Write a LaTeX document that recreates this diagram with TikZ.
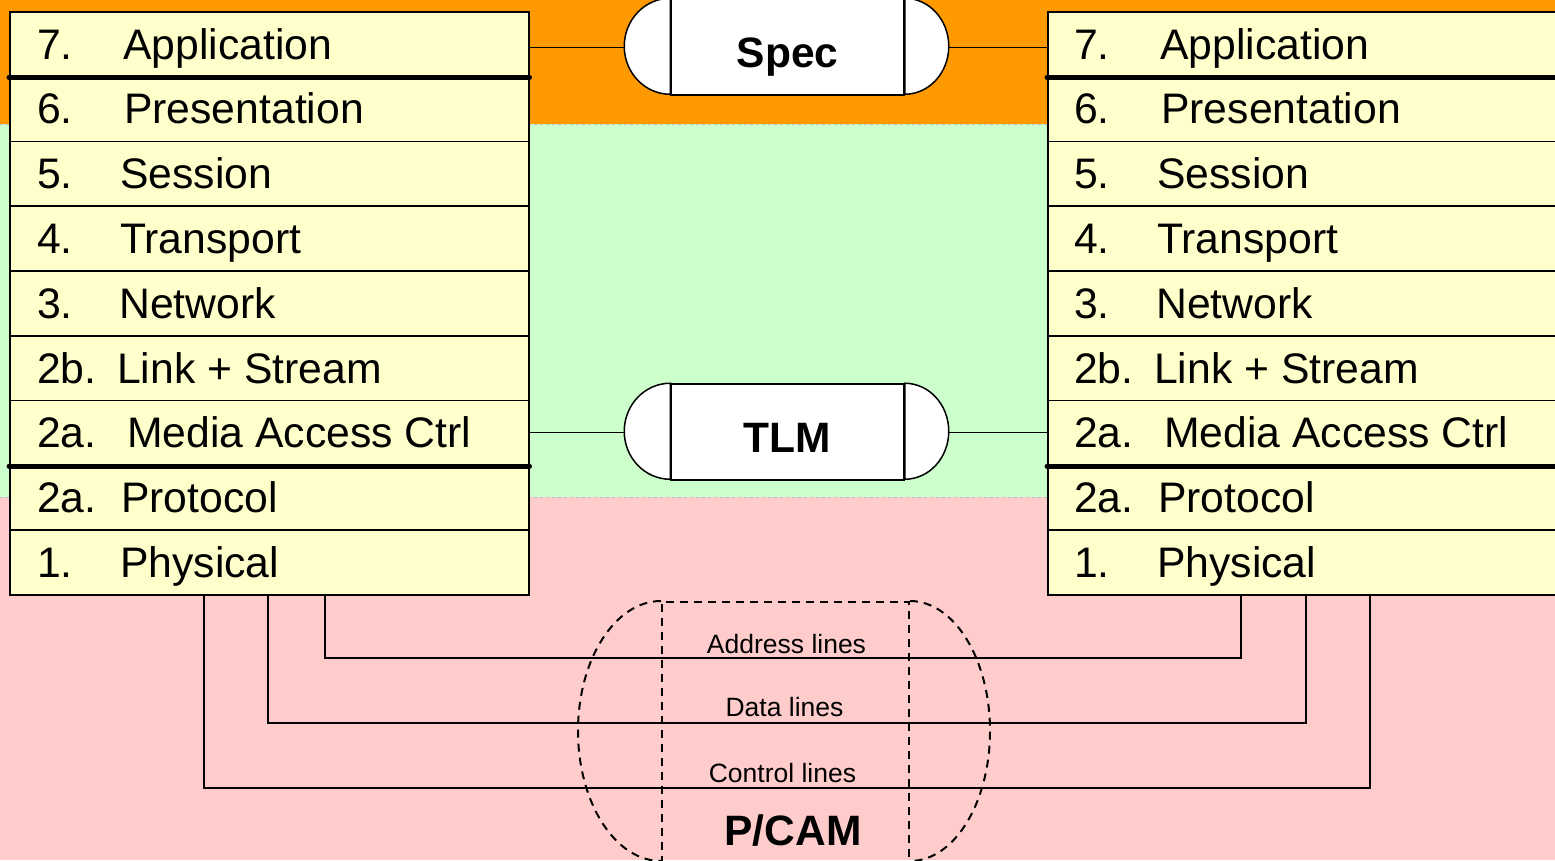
\documentclass[tikz,border=0pt]{standalone}
\usepackage{fontspec}
\setmainfont{Liberation Sans}
\usepackage{xcolor}
\usepackage{tikz}
\definecolor{specbg}{HTML}{FF9900}
\definecolor{tlmbg}{HTML}{CCFFCC}
\definecolor{pcambg}{HTML}{FFCCCC}
\definecolor{layerbg}{HTML}{FFFFCC}
\tikzset{
  layer/.style={draw, line width=1.5pt, fill=layerbg, anchor=north west,
    minimum width=519pt, minimum height=64.8pt, inner sep=0pt},
  laytext/.style={anchor=base west, inner sep=0pt, font=\fontsize{42.7}{50}\selectfont},
  sepline/.style={line width=5pt, line cap=round},
  capsule/.style={draw, line width=1.5pt, fill=white, minimum width=233pt,
    minimum height=96pt, inner sep=0pt, text height=40pt, text depth=0pt,
    font=\bfseries\fontsize{42.5}{50}\selectfont},
  link/.style={line width=1pt},
  bus/.style={line width=2pt},
  buslabel/.style={anchor=base, inner sep=0pt, font=\fontsize{26.5}{30}\selectfont},
  outline/.style={line width=2pt, dash pattern=on 8pt off 6pt},
}

\begin{document}
\begin{tikzpicture}[x=1pt, y=-1pt]
        \useasboundingbox (0,0) rectangle (1555,860);
        \clip (0,0) rectangle (1555,860);
        % bands
        \fill[specbg] (0,0) rectangle (1555,124);
        \fill[tlmbg] (0,124) rectangle (1555,497);
        \fill[pcambg] (0,497) rectangle (1555,860);
        \draw[gray!50, dashed, line width=0.5pt] (0,124) -- (1555,124);
        \draw[gray!50, dashed, line width=0.5pt] (0,497) -- (1555,497);
        % P/CAM outline
        \node[outline, draw, minimum width=247pt, minimum height=260pt, inner sep=0pt] (pcam) at (785.5,732) {};
        \draw[outline] (pcam.north west) arc[start angle=90, end angle=270, x radius=83pt, y radius=130pt];
        \draw[outline] (pcam.north east) arc[start angle=90, end angle=-90, x radius=80pt, y radius=130pt];
        \node[anchor=base, inner sep=0pt, font=\bfseries\fontsize{42.5}{50}\selectfont] (pcamtxt) at (793,845) {P/CAM};
        % protocol stacks
        \foreach \num/\txt/\tx [count=\i] in {7./Application/123, 6./Presentation/124, 5./Session/120,
            4./Transport/120, 3./Network/119, 2b./Link + Stream/117, 2a./Media Access Ctrl/127,
            2a./Protocol/121, 1./Physical/120}{
          \pgfmathsetmacro\ytop{11+(\i-1)*64.8}
          \node[layer] (l\i) at (9,\ytop) {};
          \node[laytext] (ln\i) at (37,\ytop+48) {\num};
          \node[laytext] (lt\i) at (\tx,\ytop+48) {\txt};
          \node[layer] (r\i) at (1047,\ytop) {};
          \node[laytext] (rn\i) at (1074,\ytop+48) {\num};
          \node[laytext] (rt\i) at (\tx+1037,\ytop+48) {\txt};
        }
        \draw[sepline] (l1.south west) -- (l1.south east);
        \draw[sepline] (l7.south west) -- (l7.south east);
        \draw[sepline] (r1.south west) -- (r1.south east);
        \draw[sepline] (r7.south west) -- (r7.south east);
        % bus lines
        \coordinate (addrL) at (325,658);
        \coordinate (addrR) at (1241,658);
        \coordinate (dataL) at (268,723);
        \coordinate (dataR) at (1306,723);
        \coordinate (ctrlL) at (204,788);
        \coordinate (ctrlR) at (1370,788);
        \draw[bus] (l9.south -| addrL) -- (addrL) -- (addrR) -- (r9.south -| addrR);
        \draw[bus] (l9.south -| dataL) -- (dataL) -- (dataR) -- (r9.south -| dataR);
        \draw[bus] (l9.south -| ctrlL) -- (ctrlL) -- (ctrlR) -- (r9.south -| ctrlR);
        \node[buslabel] (addrtxt) at (786.5,653) {Address lines};
        \node[buslabel] (datatxt) at (784.5,716) {Data lines};
        \node[buslabel] (ctrltxt) at (782.5,782) {Control lines};
        % capsules
        \node[capsule] (spec) at (787.5,47) {Spec};
        \node[capsule] (tlm) at (787.5,432) {TLM};
        \draw[line width=1.5pt, fill=white] (spec.north west) arc[start angle=90, end angle=270, x radius=46pt, y radius=48pt] -- cycle;
        \draw[line width=1.5pt, fill=white] (spec.north east) arc[start angle=90, end angle=-90, x radius=44pt, y radius=48pt] -- cycle;
        \draw[line width=1.5pt, fill=white] (tlm.north west) arc[start angle=90, end angle=270, x radius=46pt, y radius=48pt] -- cycle;
        \draw[line width=1.5pt, fill=white] (tlm.north east) arc[start angle=90, end angle=-90, x radius=44pt, y radius=48pt] -- cycle;
        \coordinate (specL) at ([xshift=-46pt]spec.west);
        \coordinate (specR) at ([xshift=44pt]spec.east);
        \coordinate (tlmL) at ([xshift=-46pt]tlm.west);
        \coordinate (tlmR) at ([xshift=44pt]tlm.east);
        \draw[link] (l1.east |- specL) -- (specL);
        \draw[link] (specR) -- (specR -| r1.west);
        \draw[link] (l7.east |- tlmL) -- (tlmL);
        \draw[link] (tlmR) -- (tlmR -| r7.west);
\end{tikzpicture}
\end{document}
